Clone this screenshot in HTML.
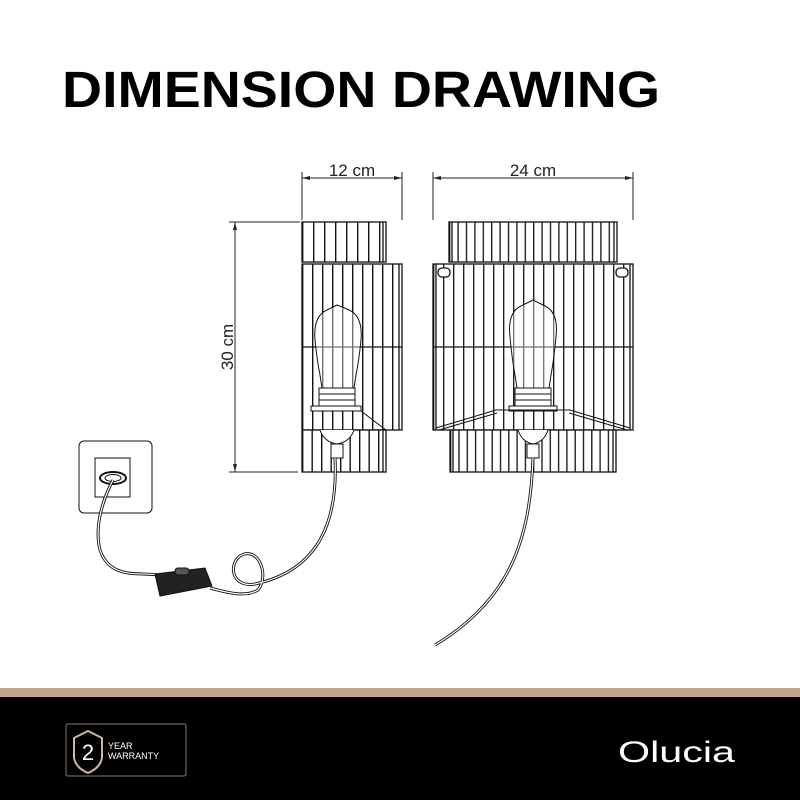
<!DOCTYPE html>
<html><head><meta charset="utf-8"><style>
html,body{margin:0;padding:0;background:#fff;}
svg{display:block;}
</style></head><body>
<svg width="800" height="800" viewBox="0 0 800 800" xmlns="http://www.w3.org/2000/svg" font-family="Liberation Sans, sans-serif">
<defs>
 <pattern id="p1" patternUnits="userSpaceOnUse" x="302" y="0" width="11" height="10"><rect width="11" height="10" fill="#fff"/><line x1="0.7" y1="0" x2="0.7" y2="10" stroke="#111" stroke-width="1.4"/></pattern>
 <pattern id="p2" patternUnits="userSpaceOnUse" x="302" y="0" width="10" height="10"><rect width="10" height="10" fill="#fff"/><line x1="0.7" y1="0" x2="0.7" y2="10" stroke="#111" stroke-width="1.4"/></pattern>
 <pattern id="p3" patternUnits="userSpaceOnUse" x="302" y="0" width="9.5" height="10"><rect width="9.5" height="10" fill="#fff"/><line x1="0.7" y1="0" x2="0.7" y2="10" stroke="#111" stroke-width="1.4"/></pattern>
 <pattern id="p4" patternUnits="userSpaceOnUse" x="449" y="0" width="8.4" height="10"><rect width="8.4" height="10" fill="#fff"/><line x1="0.7" y1="0" x2="0.7" y2="10" stroke="#111" stroke-width="1.3"/></pattern>
 <pattern id="p5" patternUnits="userSpaceOnUse" x="433" y="0" width="10" height="10"><rect width="10" height="10" fill="#fff"/><line x1="0.7" y1="0" x2="0.7" y2="10" stroke="#111" stroke-width="1.3"/></pattern>
 <pattern id="p6" patternUnits="userSpaceOnUse" x="450" y="0" width="8.3" height="10"><rect width="8.3" height="10" fill="#fff"/><line x1="0.7" y1="0" x2="0.7" y2="10" stroke="#111" stroke-width="1.3"/></pattern>
</defs>
<rect width="800" height="800" fill="#fff"/>
<text x="62" y="107" font-size="51" font-weight="bold" textLength="598" lengthAdjust="spacingAndGlyphs" fill="#000">DIMENSION DRAWING</text>
<g stroke="#222" stroke-width="1" fill="none">
 <line x1="302" y1="178" x2="402" y2="178"/><line x1="302" y1="172" x2="302" y2="220"/><line x1="402" y1="172" x2="402" y2="220"/>
 <line x1="433" y1="178" x2="633" y2="178"/><line x1="433" y1="172" x2="433" y2="220"/><line x1="633" y1="172" x2="633" y2="220"/>
 <line x1="235" y1="222" x2="235" y2="472"/><line x1="229" y1="222" x2="300" y2="222"/><line x1="229" y1="472" x2="298" y2="472"/>
</g>
<g fill="#222">
 <path d="M302 178 l8 -2 v4z M402 178 l-8 -2 v4z M433 178 l8 -2 v4z M633 178 l-8 -2 v4z M235 222 l-2 8 h4z M235 472 l-2 -8 h4z"/>
</g>
<text x="352" y="176" font-size="17" text-anchor="middle" fill="#222">12 cm</text>
<text x="533" y="176" font-size="17" text-anchor="middle" fill="#222">24 cm</text>
<text transform="translate(233,347) rotate(-90)" font-size="17" text-anchor="middle" fill="#222">30 cm</text>
<g stroke="#111" stroke-width="1.3">
 <rect x="302" y="222" width="84" height="40" fill="url(#p1)"/>
 <rect x="302" y="264" width="100" height="166" fill="url(#p2)"/>
 <rect x="302" y="430" width="84" height="42" fill="url(#p3)"/>
 <rect x="449" y="222" width="168" height="40" fill="url(#p4)"/>
 <rect x="433" y="264" width="200" height="166" fill="url(#p5)"/>
 <rect x="450" y="430" width="166" height="42" fill="url(#p6)"/>
 <line x1="383" y1="222" x2="383" y2="262"/><line x1="399" y1="264" x2="399" y2="430"/><line x1="383" y1="430" x2="383" y2="472"/>
 <line x1="452" y1="222" x2="452" y2="262"/><line x1="614" y1="222" x2="614" y2="262"/>
 <line x1="436" y1="264" x2="436" y2="430"/><line x1="630" y1="264" x2="630" y2="430"/>
 <line x1="453" y1="430" x2="453" y2="472"/><line x1="613" y1="430" x2="613" y2="472"/>
 <line x1="302" y1="347" x2="402" y2="347"/><line x1="433" y1="347" x2="633" y2="347"/>
 <rect x="438" y="268" width="12" height="9" rx="4" fill="#fff"/><rect x="616" y="268" width="12" height="9" rx="4" fill="#fff"/>
</g>
<g stroke="#111" stroke-width="1" fill="none">
 <path d="M337 305 q-6 3 -10 5 q-14 6 -12 30 q2 20 5 35 l2 13 h32 l2 -13 q3 -15 5 -35 q2 -24 -12 -30 q-4 -2 -12 -5z" fill="#fff" fill-opacity="0.4"/>
 <rect x="319" y="388" width="36" height="18" fill="#fff"/>
 <line x1="319" y1="394" x2="355" y2="394"/><line x1="319" y1="400" x2="355" y2="400"/>
 <rect x="311" y="406" width="50" height="5" fill="#fff"/>
 <path d="M361 411 l25 19"/><path d="M320 430 q4 12 17 14 q13 -2 17 -14" fill="#fff"/>
 <rect x="331" y="444" width="12" height="14" fill="#fff"/>
 <path d="M533 300 q-6 3 -10 5 q-16 6 -13 32 q2 22 5 38 l2 13 h32 l2 -13 q3 -16 5 -38 q3 -26 -13 -32 q-4 -2 -10 -5z" fill="#fff" fill-opacity="0.4"/>
 <rect x="515" y="388" width="36" height="18" fill="#fff"/>
 <line x1="515" y1="394" x2="551" y2="394"/><line x1="515" y1="400" x2="551" y2="400"/>
 <rect x="509" y="406" width="48" height="5" fill="#fff"/>
 <path d="M436 428 l60 -18 h74 l60 18"/><path d="M439 430 l58 -17 M627 430 l-58 -17"/>
 <path d="M518 430 q4 12 15 14 q11 -2 15 -14" fill="#fff"/>
 <rect x="527" y="444" width="12" height="14" fill="#fff"/>
 <rect x="79" y="441" width="73" height="72" rx="5"/>
 <rect x="95" y="458" width="35" height="39"/>
 <ellipse cx="113" cy="478" rx="13" ry="6" stroke-width="2"/><ellipse cx="113" cy="478" rx="8" ry="3.5"/>
 <path d="M335 458 C338 520 320 570 255 584 C232 588 228 565 240 556 C258 545 270 575 258 590 C245 598 225 592 210 588" stroke-width="3"/>
 <path d="M335 458 C338 520 320 570 255 584 C232 588 228 565 240 556 C258 545 270 575 258 590 C245 598 225 592 210 588" stroke="#fff" stroke-width="1.2"/>
 <path d="M158 575 C140 572 110 580 100 550 C95 530 100 505 113 480" stroke-width="3"/>
 <path d="M158 575 C140 572 110 580 100 550 C95 530 100 505 113 480" stroke="#fff" stroke-width="1.2"/>
 <path d="M155 574 l50 -6 l7 18 l-52 10 z" fill="#222"/>
 <rect x="175" y="568" width="14" height="7" rx="3" fill="#555"/>
 <path d="M533 458 C530 540 510 600 435 645" stroke-width="3"/>
 <path d="M533 458 C530 540 510 600 435 645" stroke="#fff" stroke-width="1.2"/>
</g>
<rect x="0" y="688" width="800" height="9" fill="#c2a68c"/>
<rect x="0" y="697" width="800" height="103" fill="#000"/>
<rect x="66" y="724" width="120" height="52" rx="2" fill="none" stroke="#8a7a6a" stroke-width="1"/>
<path d="M88 731 l14 7 v20 q-2 10 -14 15 q-12 -5 -14 -15 v-20z" fill="none" stroke="#c9b8a6" stroke-width="2"/>
<text x="88" y="760" font-size="22" fill="#fff" text-anchor="middle">2</text>
<text x="108" y="749" font-size="9" fill="#fff">YEAR</text>
<text x="108" y="759" font-size="9" fill="#fff">WARRANTY</text>
<text x="618" y="762" font-size="30" fill="#fff" textLength="117" lengthAdjust="spacingAndGlyphs">Olucia</text>
</svg>
</body></html>
